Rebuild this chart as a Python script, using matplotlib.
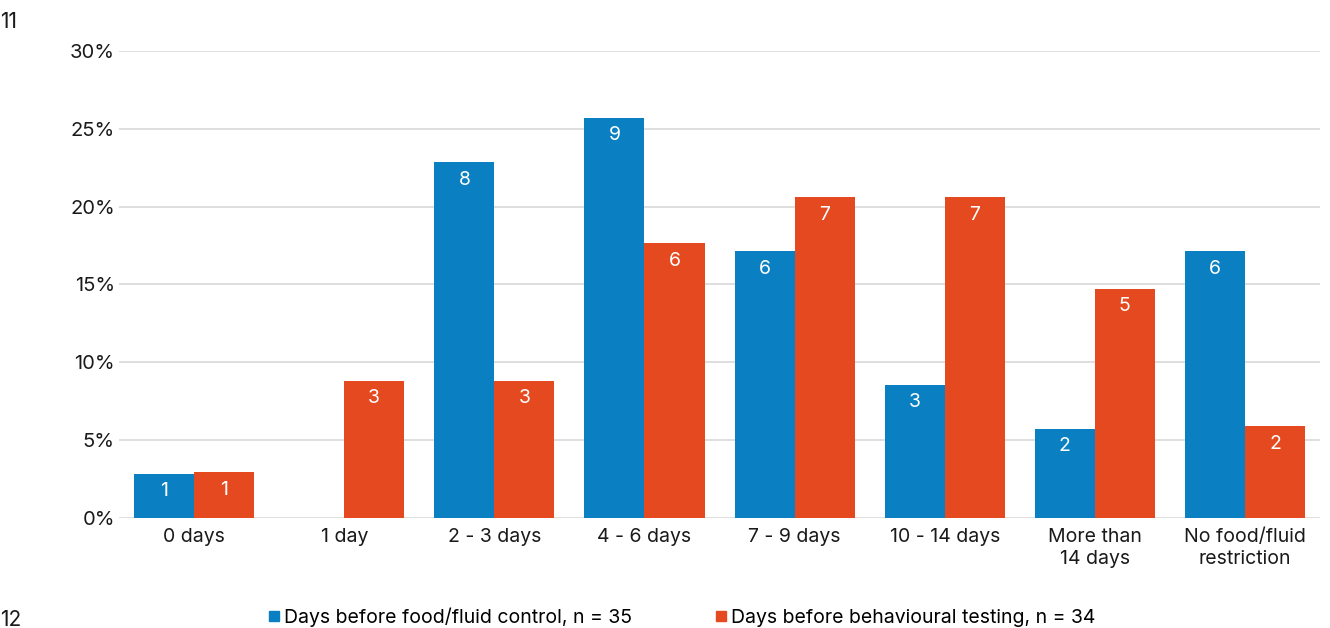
import matplotlib.pyplot as plt
import numpy as np
from matplotlib.ticker import PercentFormatter
from matplotlib.lines import Line2D

plt.rcParams['font.family'] = ['Inter', 'DejaVu Sans']

categories = ["0 days", "1 day", "2 - 3 days", "4 - 6 days", "7 - 9 days",
              "10 - 14 days", "More than\n14 days", "No food/fluid\nrestriction"]
food_counts = [1, 0, 8, 9, 6, 3, 2, 6]
test_counts = [1, 3, 3, 6, 7, 7, 5, 2]
food_n = 35
test_n = 34
food_label = "Days before food/fluid control, n = 35"
test_label = "Days before behavioural testing, n = 34"

blue = "#0a7fc1"
red = "#e5491f"

food_pct = np.array(food_counts) / food_n * 100
test_pct = np.array(test_counts) / test_n * 100

fig = plt.figure(figsize=(13.3, 6.28), dpi=100)
ax = fig.add_axes([0.0895, 0.1752, 0.903, 0.7436])

x = np.arange(len(categories))
w = 0.4
b1 = ax.bar(x - w / 2, food_pct, w, color=blue, zorder=3)
b2 = ax.bar(x + w / 2, test_pct, w, color=red, zorder=3)

# counts written in white near the top of each bar
for bars, counts in ((b1, food_counts), (b2, test_counts)):
    ax.bar_label(bars, labels=[str(c) if c else "" for c in counts],
                 padding=-19, color="white", fontsize=14)

ax.set_xlim(-0.5, len(categories) - 0.5)
ax.set_ylim(0, 30)
ax.set_yticks(np.arange(0, 31, 5))
ax.yaxis.set_major_formatter(PercentFormatter(decimals=0))
ax.set_xticks(x)
ax.set_xticklabels(categories, fontsize=14, color="#1a1a1a", linespacing=1.3)
ax.tick_params(axis="y", labelsize=14.5, labelcolor="#1a1a1a", length=0, pad=3)
ax.tick_params(axis="x", length=0, pad=7)
ax.grid(axis="y", color="#d9d9d9", linewidth=1.2, zorder=0)
for s in ax.spines.values():
    s.set_visible(False)

handles = [Line2D([], [], marker="s", linestyle="none", color=blue, markersize=7),
           Line2D([], [], marker="s", linestyle="none", color=red, markersize=7)]
fig.legend(handles, [food_label, test_label], loc="center", ncol=2,
           bbox_to_anchor=(0.512, 0.017), frameon=False, fontsize=14,
           handletextpad=0.1, columnspacing=4.2, handlelength=0.8)

fig.text(0.0, 0.965, "11", fontsize=15, color="#1a1a1a", va="center")
fig.text(0.0, 0.012, "12", fontsize=15, color="#1a1a1a", va="center")

fig.savefig("out.png", dpi=100)
